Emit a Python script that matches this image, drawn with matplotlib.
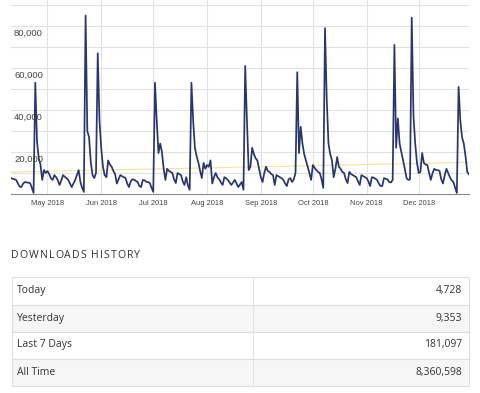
import matplotlib
matplotlib.use("Agg")
import matplotlib.pyplot as plt
import matplotlib.dates as mdates
import matplotlib.patches as mpatches
import numpy as np
import pandas as pd

# daily downloads, 10 Apr 2018 .. 30 Dec 2018
downloads = [
    7600, 7200, 7000, 6700, 5000, 3500, 3300, 5000, 5700, 5500,
    5400, 5200, 3000, 500, 53000, 25000, 17000, 14000, 6700, 11400,
    10000, 10900, 9500, 7500, 6700, 9000, 8000, 6500, 4300, 6500,
    9000, 8200, 7500, 6700, 5000, 3300, 5000, 6700, 9000, 11400,
    5700, 3000, 1000, 85000, 30000, 27000, 15000, 9000, 7600, 10000,
    67000, 35000, 22000, 13000, 9000, 8000, 16000, 14000, 13000, 11000,
    9500, 5000, 7000, 9000, 8500, 8000, 7600, 5000, 3300, 6000,
    7000, 6800, 6200, 5700, 3800, 3300, 6700, 6500, 5800, 5700,
    5200, 3000, 1000, 53000, 35000, 19500, 24000, 20000, 12000, 6700,
    12000, 11000, 10500, 10000, 7000, 5200, 10000, 9500, 9000, 6000,
    4300, 8000, 4000, 2000, 53000, 35000, 22000, 18000, 15000, 11000,
    7600, 14800, 12000, 13800, 13000, 16000, 5000, 8000, 10000, 8000,
    7000, 5500, 4300, 8000, 7500, 6700, 5500, 4300, 5500, 6700,
    5000, 3300, 4500, 5700, 2000, 61000, 35000, 11400, 13000, 22000,
    19000, 17000, 16000, 12000, 8000, 5700, 10000, 13000, 11000, 10500,
    9500, 9000, 4300, 9000, 8500, 8000, 7500, 6700, 5000, 3800,
    7000, 7600, 5700, 7000, 10000, 58000, 19500, 32000, 24000, 19000,
    16000, 13000, 10000, 6700, 13800, 12500, 11400, 10500, 10000, 7000,
    2900, 79000, 45000, 24000, 19000, 16000, 8000, 12000, 17600, 13000,
    12000, 10500, 10000, 7000, 5200, 10500, 9500, 9000, 8500, 8000,
    6000, 4300, 9000, 8500, 8000, 7600, 6000, 3800, 8000, 7800,
    7300, 6700, 5000, 3800, 3800, 7600, 7200, 7000, 5700, 5500,
    6700, 71000, 22000, 36000, 24000, 20000, 16000, 12000, 7600, 6700,
    7000, 84000, 37000, 24000, 15000, 10000, 10500, 19500, 14800, 14000,
    13800, 10000, 6700, 10000, 12000, 11400, 11400, 11000, 7000, 5000,
    9000, 12000, 10000, 8000, 6500, 5700, 3000, 500, 51000, 35000,
    27000, 24000, 18000, 10500, 9353,
]
dates = pd.date_range("2018-04-10", periods=len(downloads), freq="D")

y_labels = [20000, 40000, 60000, 80000]

history_labels = ["Today", "Yesterday", "Last 7 Days", "All Time"]
history_values = [4728, 9353, 181097, 8360598]

W, H = 480, 393
fig = plt.figure(figsize=(W / 100, H / 100), dpi=100)
fig.patch.set_facecolor("white")

# chart area in pixels: x 11..469, y 0..194
ax = fig.add_axes([11 / W, (H - 194) / H, 458 / W, 194 / H])
ax.set_facecolor("white")

vals = np.array(downloads, dtype=float)
t = np.arange(len(vals))
k, b = np.polyfit(t, vals, 1)
ax.plot(dates, k * t + b, color="#f3e3a3", lw=0.8, zorder=2)
ax.plot(dates, vals, color="#29356f", lw=1.25, zorder=3, solid_joinstyle="round")

ax.set_xlim(dates[0], dates[-1])
ax.set_ylim(0, 92400)
ax.set_yticks(np.arange(10000, 92000, 10000))
ax.yaxis.set_ticklabels([])
ax.xaxis.set_major_locator(mdates.MonthLocator())
ax.xaxis.set_major_formatter(mdates.DateFormatter("%b %Y"))
ax.grid(True, color="#e2e2e2", lw=0.8, zorder=0)
ax.tick_params(length=0, labelsize=5.4, labelcolor="#444444", pad=4)
for lab in ax.get_xticklabels():
    lab.set_fontfamily("Liberation Sans")
for side in ["top", "right", "left"]:
    ax.spines[side].set_visible(False)
ax.spines["bottom"].set_color("#8a8a8a")
ax.spines["bottom"].set_linewidth(0.8)

for v in y_labels:
    ax.annotate(f"{v:,}", xy=(0, v), xycoords=("axes fraction", "data"),
                xytext=(2.2, -5), textcoords="offset points",
                ha="left", va="center", fontsize=6.8, color="#444444",
                family="Liberation Sans", zorder=4)

# lower part: heading and table, pixel coordinates
tab = fig.add_axes([0, 0, 1, 1], zorder=-1)
tab.set_xlim(0, W)
tab.set_ylim(H, 0)
tab.axis("off")

# heading with letter spacing, one glyph at a time
renderer = fig.canvas.get_renderer()
x = 11.0
for ch in "DOWNLOADS HISTORY":
    txt = tab.text(x, 256, ch, fontsize=7.6, color="#333333", family="Open Sans",
                   fontweight="medium", va="center", ha="left")
    bb = txt.get_window_extent(renderer)
    adv = bb.width if ch != " " else 2.4
    x += adv + 1.1

row_edges = [277, 304.5, 331.5, 358.5, 386]
left, mid, right = 11.5, 253, 468.5
for i, (lab, val) in enumerate(zip(history_labels, history_values)):
    y0, y1 = row_edges[i], row_edges[i + 1]
    face = "#f6f6f6" if i % 2 else "white"
    tab.add_patch(mpatches.Rectangle((left, y0), right - left, y1 - y0,
                                     facecolor=face, edgecolor="#dedede", lw=0.8))
    tab.plot([mid, mid], [y0, y1], color="#e4e4e4", lw=0.8)
    yc = (y0 + y1) / 2
    tab.text(17, yc, lab, fontsize=7.5, color="#333333", family="Open Sans",
             va="center", ha="left")
    tab.text(462, yc, f"{val:,}", fontsize=7.5, color="#333333", family="Open Sans",
             va="center", ha="right")

fig.savefig("out.png", dpi=100, facecolor="white")
